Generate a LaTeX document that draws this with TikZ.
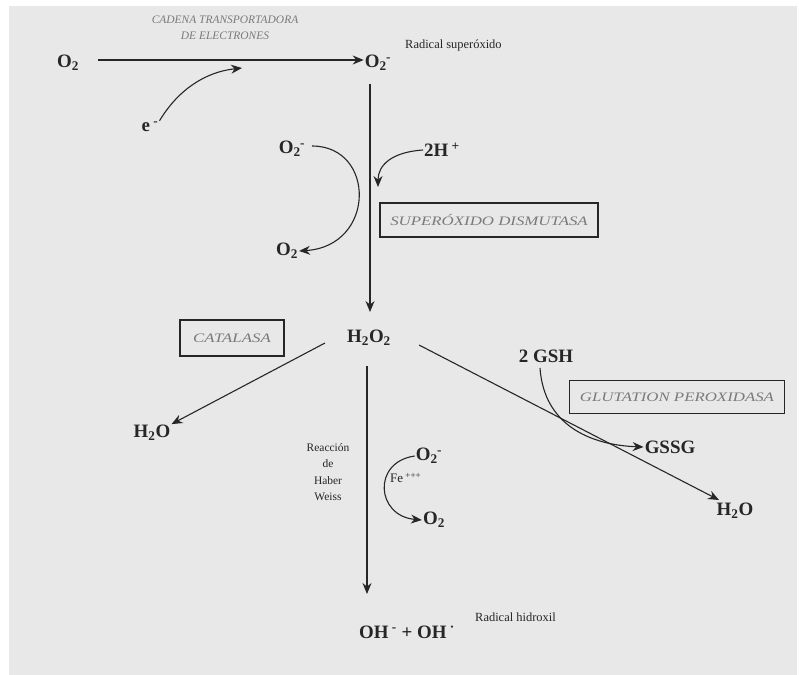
\documentclass[tikz,border=0pt]{standalone}
\usepackage{fontspec}
\usepackage{graphicx}
\setmainfont{Liberation Serif}
\usetikzlibrary{arrows.meta,calc}
\definecolor{bgc}{HTML}{E8E8E8}
\definecolor{ink}{HTML}{262626}
\definecolor{soft}{HTML}{7A7A7A}
\newcommand{\ssup}[2]{\textsubscript{#1}\kern-0.5pt\textsuperscript{#2}}
\newcommand{\wide}[1]{\scalebox{1.3}[1]{#1}}
\begin{document}
\begin{tikzpicture}[x=1bp,y=-1bp,
  chem/.style={font=\fontsize{19}{22}\selectfont\bfseries, text=ink, inner sep=1pt},
  tiny/.style={font=\fontsize{12.5}{14}\selectfont, text=ink, inner sep=1pt},
  capt/.style={font=\fontsize{11.5}{16}\selectfont\itshape, text=soft, align=center, inner sep=1pt},
  enz/.style={draw=ink, line width=1.3pt, font=\fontsize{13}{15}\selectfont\itshape, text=soft, inner sep=0pt},
  arr/.style={-{Stealth[length=11pt,width=9pt]}, line width=1.1pt, draw=ink}]
\useasboundingbox (0,0) rectangle (799,675);
\fill[white] (0,0) rectangle (799,675);
\fill[bgc] (9,6) rectangle (797,675);

% top row
\node[chem] (O2a) at (68,63) {O\textsubscript{2}};
\node[chem] (O2b) at (378,63) {O\ssup{2}{-}};
\node[capt] (cte) at (225,28) {CADENA TRANSPORTADORA\\DE ELECTRONES};
\node[tiny, anchor=west] (rsup) at (404,45) {Radical superóxido};
\node[chem] (e) at (150,127) {e\textsuperscript{ -}};
\coordinate (etip) at (242,68);
\coordinate (hstart) at (98,60);
\draw[arr] (hstart) -- (O2b.west |- hstart);
\draw[arr] (e.north east) .. controls (178,90) and (205,72) .. (etip);

% dismutase
\coordinate (vtop) at (370,84);
\coordinate (vbot) at (370,312);
\draw[arr] (vtop) -- (vbot);
\node[chem] (O2c) at (292,149) {O\ssup{2}{-}};
\node[chem] (O2d) at (287,251) {O\textsubscript{2}};
\draw[arr] (312,146) .. controls (376,146) and (376,246) .. (O2d.east);
\node[chem] (H2p) at (442,150) {2H\textsuperscript{ +}};
\coordinate (htip) at (378,187);
\draw[arr] (H2p.west) .. controls (392,152) and (378,165) .. (htip);
\node[enz, minimum width=218bp, minimum height=34bp] (sod) at (489,220) {\wide{SUPERÓXIDO DISMUTASA}};

% H2O2
\node[chem] (H2O2) at (369,338) {H\textsubscript{2}O\textsubscript{2}};
\node[enz, minimum width=104bp, minimum height=36bp] (cat) at (232,338) {\wide{CATALASA}};
\node[chem] (H2Oa) at (152,433) {H\textsubscript{2}O};
\draw[arr] (325,343) -- (H2Oa.north east);

% glutathione
\node[chem] (H2Ob) at (735,511) {H\textsubscript{2}O};
\draw[arr] (419,345) -- (719,500);
\node[chem] (gsh) at (546,356) {2 GSH};
\node[chem] (gssg) at (670,447) {GSSG};
\draw[arr] (540,368) .. controls (544,425) and (590,445) .. (gssg.west);
\node[enz, minimum width=215bp, minimum height=33bp] (gpx) at (677,397) {\wide{GLUTATION PEROXIDASA}};

% Haber-Weiss
\coordinate (wtop) at (367,366);
\node[chem] (oh) at (407,632) {OH\textsuperscript{ -}~+ OH\textsuperscript{ ·}};
\draw[arr] (wtop) -- (367,594);
\node[tiny, align=center, font=\fontsize{11.5}{16.5}\selectfont] (hw) at (328,472) {Reacción\\de\\Haber\\Weiss};
\node[chem] (O2e) at (429,456) {O\ssup{2}{-}};
\node[chem] (O2f) at (434,520) {O\textsubscript{2}};
\draw[arr] (O2e.west) .. controls (372,462) and (376,516) .. (O2f.west);
\node[tiny, font=\fontsize{13}{15}\selectfont, anchor=west] (fe) at (389,478) {Fe\textsuperscript{ +++}};
\node[tiny, anchor=west] (rhid) at (474,617) {Radical hidroxil};
\end{tikzpicture}
\end{document}
